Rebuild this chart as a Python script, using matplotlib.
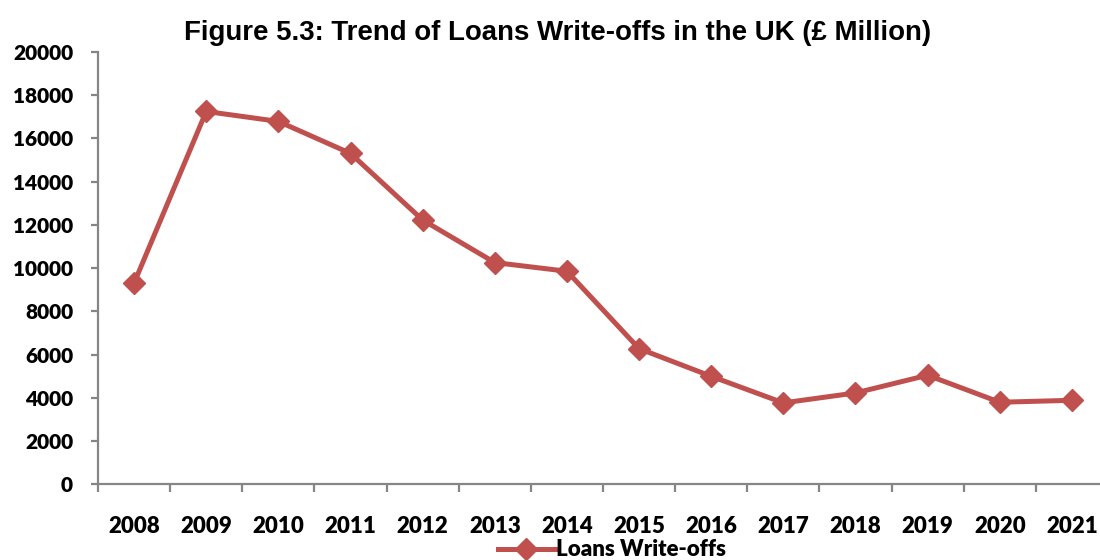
import matplotlib
matplotlib.use("Agg")
import matplotlib.pyplot as plt
from matplotlib.ticker import FixedLocator, NullFormatter

years = ["2008", "2009", "2010", "2011", "2012", "2013", "2014",
         "2015", "2016", "2017", "2018", "2019", "2020", "2021"]
write_offs = [9310, 17250, 16790, 15310, 12230, 10260, 9860,
              6280, 5000, 3770, 4230, 5050, 3800, 3890]
y_ticks = [0, 2000, 4000, 6000, 8000, 10000, 12000, 14000, 16000, 18000, 20000]

title_text = "Figure 5.3: Trend of Loans Write-offs in the UK (£ Million)"
series_name = "Loans Write-offs"

line_color = "#C0504D"
axis_color = "#868686"
label_font = ["Lato", "DejaVu Sans"]
label_weight = "heavy"

fig = plt.figure(figsize=(11, 5.6), dpi=100)
ax = fig.add_axes([98 / 1100, 75.6 / 560, (1108 - 98) / 1100, (484.4 - 52) / 560])

x = list(range(len(years)))
ax.plot(x, write_offs, color=line_color, linewidth=3.6, marker="D",
        markersize=11, markerfacecolor=line_color, markeredgecolor=line_color,
        label=series_name, clip_on=False, zorder=3)

ax.set_xlim(-0.5, len(years) - 0.5)
ax.set_ylim(0, 20000)

for side in ("top", "right"):
    ax.spines[side].set_visible(False)
for side in ("left", "bottom"):
    ax.spines[side].set_color(axis_color)
    ax.spines[side].set_linewidth(1.6)

ax.set_yticks(y_ticks)
ax.set_yticklabels([str(v) for v in y_ticks], fontfamily=label_font,
                   fontweight=label_weight, fontsize=15)
ax.tick_params(axis="y", direction="out", length=5, width=1.6,
               color=axis_color, pad=13)

# category labels centred on points, tick marks on the boundaries
ax.set_xticks(x)
ax.set_xticklabels(years, fontfamily=label_font, fontweight=label_weight, fontsize=16)
ax.tick_params(axis="x", which="major", length=0, pad=23)
ax.xaxis.set_minor_locator(FixedLocator([i - 0.5 for i in range(len(years) + 1)]))
ax.xaxis.set_minor_formatter(NullFormatter())
ax.tick_params(axis="x", which="minor", direction="out", length=6, width=1.6,
               color=axis_color)

fig.text(558 / 1100, 1 - 40 / 560, title_text, ha="center", va="baseline",
         fontfamily=["Liberation Sans", "DejaVu Sans"], fontweight="bold",
         fontsize=19.9)

leg = ax.legend(loc="center", bbox_to_anchor=(612 / 1100, 1 - 550 / 560),
                bbox_transform=fig.transFigure, frameon=False, handlelength=2.6,
                handletextpad=0.05, borderpad=0,
                prop={"family": label_font, "weight": label_weight, "size": 16})

fig.savefig("out.png", dpi=100)
